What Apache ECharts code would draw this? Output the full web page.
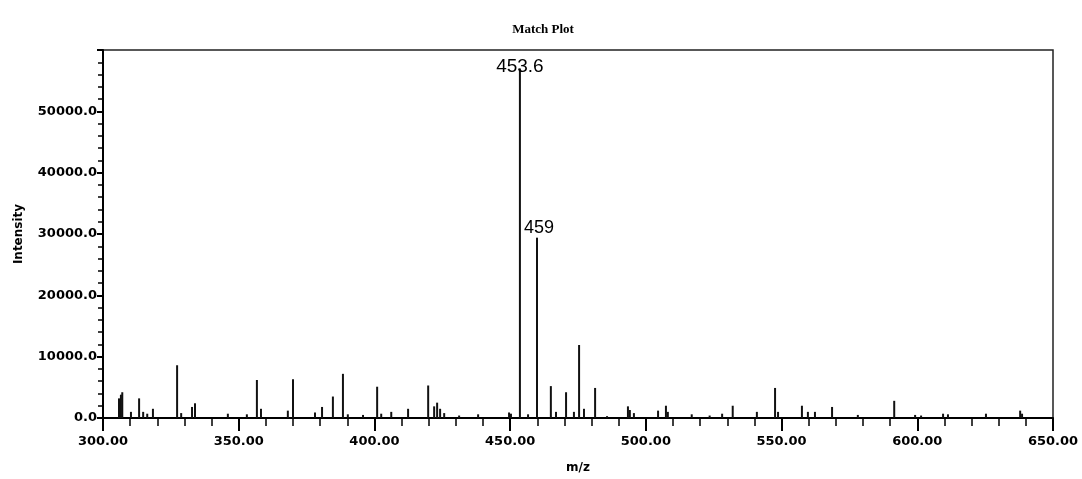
<!DOCTYPE html>
<html>
<head>
<meta charset="utf-8">
<script src="https://cdn.jsdelivr.net/npm/echarts@6/dist/echarts.min.js"></script>
<style>
  html, body { margin: 0; padding: 0; background: #fff; }
  #chart { width: 1082px; height: 479px; }
</style>
</head>
<body>
<div id="chart"></div>
<script>
// m/z positions and intensities
const mzValues = [
  305.9, 306.6, 307.1, 310.3, 313.3, 314.8, 316.3, 318.4, 327.3, 328.8,
  332.8, 333.9, 346.0, 353.0, 356.7, 358.2, 368.1, 370.0, 378.1, 380.7,
  384.7, 388.4, 390.2, 395.8, 401.0, 402.5, 406.2, 412.4, 419.8, 422.0,
  423.1, 424.2, 425.7, 431.2, 438.2, 449.6, 450.3, 453.6, 456.6, 459.9,
  465.0, 466.9, 470.6, 473.5, 475.4, 477.2, 481.3, 485.7, 493.4, 494.1,
  495.6, 504.5, 507.4, 508.1, 516.9, 523.5, 528.1, 532.0, 540.9, 547.6,
  548.7, 557.5, 559.7, 562.3, 568.6, 578.1, 591.5, 599.2, 601.4, 609.5,
  611.3, 625.3, 637.9, 638.6
];
const intensities = [
  3200, 3800, 4200, 1000, 3200, 1000, 700, 1500, 8600, 800,
  1800, 2400, 700, 600, 6200, 1500, 1200, 6300, 900, 1800,
  3500, 7200, 600, 500, 5100, 700, 1000, 1500, 5300, 1900,
  2500, 1500, 800, 400, 600, 900, 700, 57000, 600, 29400,
  5200, 1000, 4200, 1000, 11900, 1500, 4900, 300, 1900, 1300,
  800, 1200, 2000, 1000, 600, 400, 700, 2000, 1000, 4900,
  1000, 2000, 1000, 1000, 1800, 500, 2800, 500, 400, 700,
  600, 700, 1200, 700
];
// peaks carrying a text label
const peakLabels = { 453.6: "453.6", 459.9: "459" };

const chart = echarts.init(document.getElementById("chart"));

const seriesData = mzValues.map((mz, i) => {
  const item = { value: [mz, intensities[i]] };
  if (peakLabels[mz] === "453.6") {
    item.label = {
      show: true, position: "top", offset: [0, 13],
      formatter: peakLabels[mz], fontSize: 19, color: "#000",
      fontFamily: "Liberation Sans"
    };
  } else if (peakLabels[mz]) {
    item.label = {
      show: true, position: "top", offset: [2, 4],
      formatter: peakLabels[mz], fontSize: 18, color: "#000",
      fontFamily: "Liberation Sans"
    };
  }
  return item;
});

const axisFont = { fontFamily: "DejaVu Sans", fontWeight: "bold", fontSize: 13, color: "#000" };

chart.setOption({
  animation: false,
  title: {
    text: "Match Plot",
    left: 538,
    top: 18,
    textAlign: "center",
    textStyle: { fontFamily: "Liberation Serif", fontWeight: "bold", fontSize: 13, color: "#000" }
  },
  grid: {
    left: 103, right: 29, top: 50, bottom: 61,
    show: true, borderColor: "#222", borderWidth: 1.5, backgroundColor: "#fff"
  },
  xAxis: {
    type: "value",
    min: 300, max: 650, interval: 50,
    name: "m/z",
    nameLocation: "middle",
    nameGap: 44,
    nameTextStyle: Object.assign({}, axisFont, { fontSize: 12 }),
    axisLine: { lineStyle: { color: "#000", width: 2 } },
    axisTick: { length: 13, lineStyle: { color: "#000", width: 2 } },
    minorTick: { show: true, splitNumber: 5, length: 8, lineStyle: { color: "#000", width: 1.5 } },
    axisLabel: Object.assign({}, axisFont, { margin: 17, formatter: v => v.toFixed(2) }),
    splitLine: { show: false }
  },
  yAxis: {
    type: "value",
    min: 0, max: 60000, interval: 10000,
    name: "Intensity",
    nameLocation: "middle",
    nameGap: 78,
    nameTextStyle: Object.assign({}, axisFont, { fontSize: 12 }),
    axisLine: { show: true, lineStyle: { color: "#000", width: 2 } },
    axisTick: { length: 6, lineStyle: { color: "#000", width: 2 } },
    minorTick: { show: true, splitNumber: 5, length: 5, lineStyle: { color: "#000", width: 1.5 } },
    axisLabel: Object.assign({}, axisFont, {
      margin: 6,
      showMaxLabel: false,
      formatter: v => (v >= 60000 ? "" : v.toFixed(1))
    }),
    splitLine: { show: false }
  },
  series: [{
    type: "bar",
    data: seriesData,
    barWidth: 2,
    itemStyle: { color: "#111" },
    z: 3
  }]
});
</script>
</body>
</html>
